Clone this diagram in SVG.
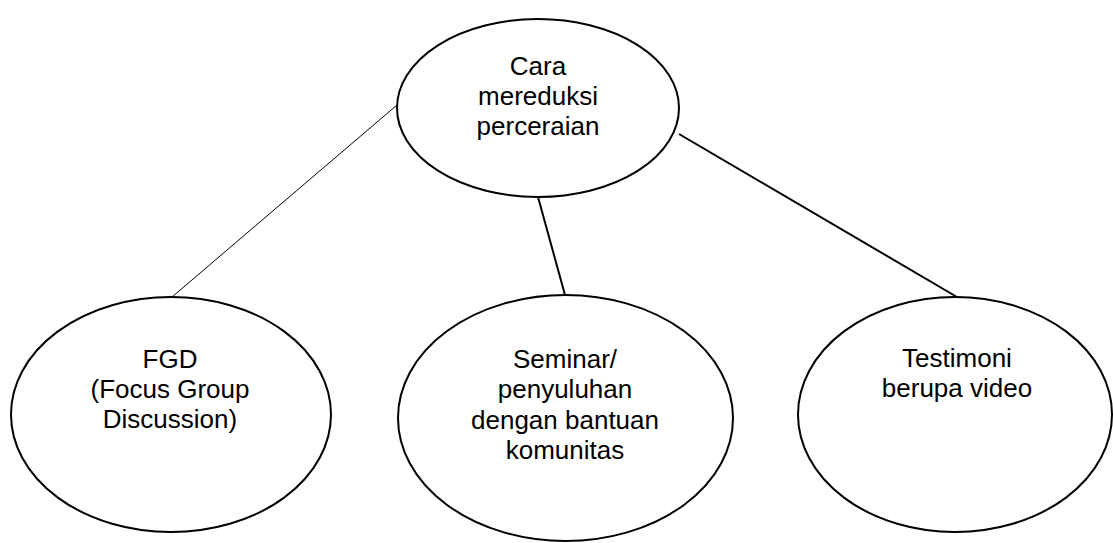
<svg xmlns="http://www.w3.org/2000/svg" width="1113" height="543" viewBox="0 0 1113 543">
<style>
.node ellipse{fill:#fff;stroke:#000;stroke-width:2}
.node text{font-family:"Liberation Sans",Arial,sans-serif;font-size:26px;fill:#000;text-anchor:middle}
.conn line{stroke:#000}
</style>
<rect width="1113" height="543" fill="#fff"/>
<g id="connectors" class="conn">
<line x1="397" y1="105" x2="172" y2="297" stroke-width="1"/>
<line x1="538" y1="197" x2="565" y2="295" stroke-width="2"/>
<line x1="679" y1="134" x2="957" y2="297" stroke-width="2"/>
</g>
<g id="root" class="node">
<ellipse cx="538" cy="108" rx="141" ry="89"/>
<text x="538" y="75">Cara</text>
<text x="538" y="105">mereduksi</text>
<text x="538" y="135">perceraian</text>
</g>
<g id="fgd" class="node">
<ellipse cx="171" cy="414.5" rx="160" ry="117.5"/>
<text x="170" y="368">FGD</text>
<text x="170" y="398">(Focus Group</text>
<text x="170" y="428">Discussion)</text>
</g>
<g id="seminar" class="node">
<ellipse cx="565.5" cy="418" rx="167.5" ry="123"/>
<text x="565" y="367.5">Seminar/</text>
<text x="565" y="398">penyuluhan</text>
<text x="565" y="428.5">dengan bantuan</text>
<text x="565" y="459">komunitas</text>
</g>
<g id="testimoni" class="node">
<ellipse cx="955" cy="414.5" rx="157" ry="117.5"/>
<text x="957" y="367">Testimoni</text>
<text x="957" y="397">berupa video</text>
</g>
</svg>
